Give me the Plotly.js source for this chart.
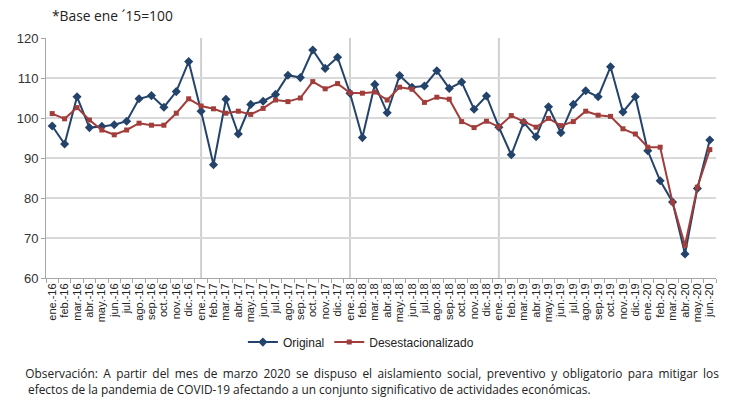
<!DOCTYPE html>
<html>
<head>
<meta charset="utf-8">
<script src="https://cdn.plot.ly/plotly-3.0.1.min.js"></script>
<style>
html,body{margin:0;padding:0;background:#fff;}
#chart{width:744px;height:412px;}
#chart g.annotation[data-index="1"] text{word-spacing:2.3px;}
</style>
</head>
<body>
<div id="chart"></div>
<script>
const months = [
  "ene.-16","feb.-16","mar.-16","abr.-16","may.-16","jun.-16","jul.-16","ago.-16","sep.-16","oct.-16","nov.-16","dic.-16",
  "ene.-17","feb.-17","mar.-17","abr.-17","may.-17","jun.-17","jul.-17","ago.-17","sep.-17","oct.-17","nov.-17","dic.-17",
  "ene.-18","feb.-18","mar.-18","abr.-18","may.-18","jun.-18","jul.-18","ago.-18","sep.-18","oct.-18","nov.-18","dic.-18",
  "ene.-19","feb.-19","mar.-19","abr.-19","may.-19","jun.-19","jul.-19","ago.-19","sep.-19","oct.-19","nov.-19","dic.-19",
  "ene.-20","feb.-20","mar.-20","abr.-20","may.-20","jun.-20"
];
const original = [
  98.0, 93.5, 105.3, 97.6, 97.9, 98.3, 99.2, 104.8, 105.6, 102.7, 106.6, 114.1,
  101.7, 88.3, 104.7, 96.0, 103.4, 104.2, 105.9, 110.7, 110.1, 117.0, 112.4, 115.2,
  106.2, 95.1, 108.4, 101.3, 110.6, 107.7, 108.0, 111.8, 107.4, 109.0, 102.2, 105.5,
  97.7, 90.8, 98.9, 95.3, 102.8, 96.3, 103.4, 106.8, 105.3, 112.8, 101.5, 105.3,
  91.8, 84.3, 79.0, 66.0, 82.4, 94.5
];
const desestacionalizado = [
  101.1, 99.8, 102.6, 99.5, 97.0, 95.8, 97.0, 98.7, 98.2, 98.2, 101.2, 104.8,
  103.0, 102.3, 101.2, 101.7, 100.9, 102.4, 104.5, 104.1, 105.0, 109.1, 107.3, 108.6,
  106.3, 106.2, 106.5, 104.5, 107.7, 107.2, 103.9, 105.2, 104.7, 99.1, 97.6, 99.2,
  97.8, 100.6, 99.1, 97.7, 99.9, 98.1, 99.1, 101.7, 100.7, 100.4, 97.3, 96.0,
  92.7, 92.7, 78.9, 68.2, 82.7, 92.1
];
const yearStarts = ["ene.-17","ene.-18","ene.-19"];
const seriesNames = ["Original","Desestacionalizado"];
const baseNote = "*Base ene \u00B415=100";
const obsLine1 = "Observación: A partir del mes de marzo 2020 se dispuso el aislamiento social, preventivo y obligatorio para mitigar los";
const obsLine2 = "efectos de la pandemia de COVID-19 afectando a un conjunto significativo de actividades económicas.";

const traces = [
  {x: months, y: original, name: seriesNames[0], type: "scatter", mode: "lines+markers",
   line: {color: "#23436b", width: 2}, marker: {symbol: "diamond", size: 7, color: "#23436b"}},
  {x: months, y: desestacionalizado, name: seriesNames[1], type: "scatter", mode: "lines+markers",
   line: {color: "#a13d3b", width: 2}, marker: {symbol: "square", size: 5, color: "#a13d3b"}}
];

const shapes = yearStarts.map(m => ({
  type: "line", xref: "x", yref: "paper", x0: m, x1: m, y0: 0, y1: 1,
  line: {color: "#d0d0d0", width: 2}, layer: "below"
}));

const layout = {
  width: 744, height: 412,
  margin: {l: 46, r: 28, t: 38, b: 134},
  paper_bgcolor: "#fff", plot_bgcolor: "#fff",
  font: {family: "Liberation Sans, Arial, sans-serif", color: "#333"},
  showlegend: true,
  legend: {orientation: "h", x: 0.47, xanchor: "center", y: -0.267, yanchor: "middle",
           font: {size: 12, color: "#222"}, tracegroupgap: 0},
  xaxis: {
    type: "category", range: [-0.5, months.length - 0.5], automargin: false,
    tickmode: "array", tickvals: months, ticktext: months,
    tickangle: -90, tickfont: {size: 11, color: "#222"},
    showgrid: false, zeroline: false,
    showline: true, linecolor: "#a6a6a6", linewidth: 1,
    ticks: "outside", ticklen: 4, tickcolor: "#a6a6a6", tickson: "boundaries"
  },
  yaxis: {
    range: [60, 120], dtick: 10, tickfont: {size: 13, color: "#333"}, automargin: false,
    showgrid: true, gridcolor: "#d9d9d9", gridwidth: 2, zeroline: false,
    showline: true, linecolor: "#a6a6a6", linewidth: 1,
    ticks: "outside", ticklen: 4, tickcolor: "#a6a6a6"
  },
  shapes: shapes,
  annotations: [
    {text: baseNote, xref: "paper", yref: "paper", x: 0.006, y: 1.092, xanchor: "left", yanchor: "middle",
     showarrow: false, font: {family: "Open Sans, sans-serif", size: 13.8, color: "#222"}},
    {text: obsLine1, xref: "paper", yref: "paper", x: -0.003, y: -0.396, xanchor: "left", yanchor: "middle",
     showarrow: false, font: {family: "Open Sans, sans-serif", size: 11.9, color: "#222"}},
    {text: obsLine2, xref: "paper", yref: "paper", x: -0.03, y: -0.4625, xanchor: "left", yanchor: "middle",
     showarrow: false, font: {family: "Open Sans, sans-serif", size: 11.9, color: "#222"}}
  ]
};

Plotly.newPlot("chart", traces, layout, {displayModeBar: false, staticPlot: true});
</script>
</body>
</html>
